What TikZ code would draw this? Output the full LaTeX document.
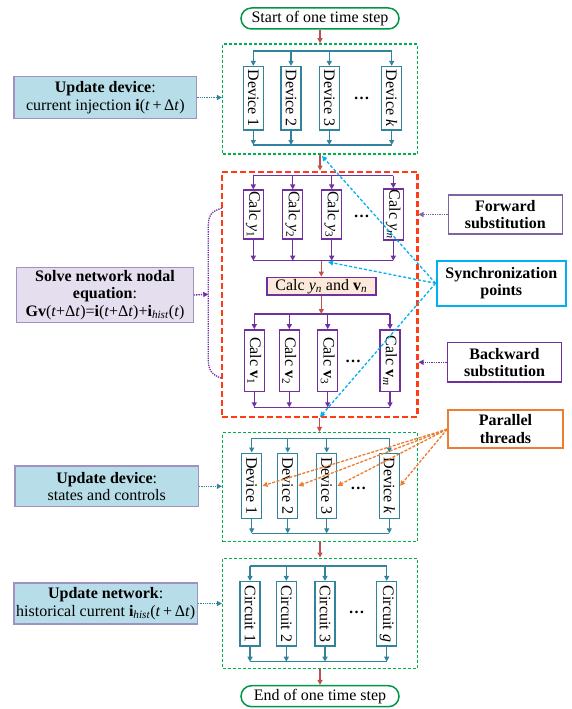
\documentclass[tikz,border=0pt]{standalone}
\usepackage{fontspec}
\setmainfont{Liberation Serif}
\usetikzlibrary{arrows.meta}

\definecolor{devteal}{RGB}{49,132,155}
\definecolor{calcpurple}{RGB}{112,48,160}
\definecolor{flowred}{RGB}{192,80,77}
\definecolor{grpgreen}{RGB}{0,176,80}
\definecolor{termgreen}{RGB}{0,150,70}
\definecolor{solvered}{RGB}{255,60,20}
\definecolor{labblue}{RGB}{183,222,232}
\definecolor{labedge}{RGB}{160,145,195}
\definecolor{solvefill}{RGB}{228,222,239}
\definecolor{yvfill}{RGB}{253,233,217}
\definecolor{fwdpurple}{RGB}{128,100,162}
\definecolor{synccyan}{RGB}{0,176,240}
\definecolor{parorange}{RGB}{237,125,49}

\begin{document}
\begin{tikzpicture}[x=1pt,y=-1pt,
font=\fontsize{16}{17.5}\selectfont,
>={Triangle[length=5pt,width=5pt]},
term/.style={%
draw=termgreen,
line width=1.5pt,
rounded corners=10.5pt,
minimum width=158pt,
minimum height=21pt,
inner sep=0pt
},
grpbox/.style={%
draw=grpgreen,
line width=1.5pt,
dash pattern=on 3pt off 2pt,
minimum width=194.6pt,
inner sep=0pt
},
solvebox/.style={%
draw=solvered,
line width=2.4pt,
dash pattern=on 6pt off 3pt,
minimum width=195.6pt,
minimum height=245pt,
inner sep=0pt
},
devbox/.style={%
draw=devteal,
line width=1.5pt,
fill=white,
rotate=-90,
minimum height=20pt,
inner sep=1pt
},
calcbox/.style={%
draw=calcpurple,
line width=1.5pt,
fill=white,
rotate=-90,
minimum height=20pt,
inner sep=1pt
},
dotsnode/.style={inner sep=0pt,font=\fontsize{16}{17.5}\selectfont\bfseries},
devbus/.style={draw=devteal,line width=1.5pt},
devarr/.style={devteal,line width=1.2pt,->},
calcbus/.style={draw=calcpurple,line width=1.5pt},
calcarr/.style={calcpurple,line width=1.2pt,->},
flowarr/.style={flowred,line width=1.2pt,->},
labbox/.style={%
draw=labedge,
line width=1.2pt,
fill=labblue,
align=center,
inner sep=0pt
},
notebox/.style={%
fill=white,
align=center,
inner sep=0pt,
font=\fontsize{16}{17.5}\selectfont\bfseries
},
noteptr/.style={densely dotted,line width=1.3pt,->},
syncarr/.style={synccyan,dash pattern=on 3pt off 2pt,line width=1.3pt,->},
pararr/.style={parorange,dash pattern=on 3pt off 1.5pt,line width=1.3pt,->},
]
\useasboundingbox (0,0) rectangle (571,709);

%% Start and end
\node[term] (start) at (320,18.5) {Start of one time step};
\node[term] (stop) at (320,696.2) {End of one time step};

%% Group boxes
\node[grpbox,minimum height=110pt] (gA) at (320,99) {};
\node[solvebox] (rB) at (319.5,294.2) {};
\node[grpbox,minimum height=109pt] (gD) at (320,487.2) {};
\node[grpbox,minimum height=110pt] (gE) at (320,613.3) {};

%% Update device: current injection
\foreach \i/\x/\t in {1/253.3/1,2/291/2,3/329.3/3,4/391.7/\textit{k}}{%
\node[devbox,minimum width=63.3pt] (da\i) at (\x,98.3) {Device \t};
\coordinate (ta\i) at (\x,51);
\coordinate (ba\i) at (\x,145);
\draw[devarr] (ta\i)--(da\i.west);
\draw[devarr] (da\i.east)--(ba\i);
}
\draw[devbus] (ta1)--(ta4);
\draw[devbus] (ba1)--(ba4);
\node[dotsnode] (dotsA) at (361.7,98) {…};

%% Forward substitution
\foreach \i/\x/\t in {1/253.3/1,2/292.7/2,3/331.7/3,4/393.3/\textit{m}}{%
\node[calcbox,minimum width=47.6pt] (cy\i) at (\x,214.5) {Calc \textit{y}\textsubscript{\t}};
\coordinate (tb\i) at (\x,175.5);
\coordinate (bb\i) at (\x,260.7);
\draw[calcarr] (tb\i)--(cy\i.west);
\draw[calcarr] (cy\i.east)--(bb\i);
}
\draw[calcbus] (tb1)--(tb4);
\draw[calcbus] (bb1)--(bb4);
\node[dotsnode] (dotsB) at (361.7,216.7) {…};

\node[draw=calcpurple,line width=1.5pt,fill=yvfill,minimum width=109pt,minimum height=17.7pt,inner sep=0pt]
(yv) at (321.3,286.2) {Calc \textit{y}\textsubscript{\textit{n}} and \textbf{v}\textsubscript{\textit{n}}};
\coordinate (bbm) at (321.3,260.7);
\coordinate (tcm) at (321.3,314);

%% Backward substitution
\foreach \i/\x/\t in {1/254.3/1,2/289.3/2,3/327.7/3,4/390/\textit{m}}{%
\node[calcbox,minimum width=61.7pt] (cv\i) at (\x,360.8) {Calc \textbf{v}\textsubscript{\t}};
\coordinate (tc\i) at (\x,314);
\coordinate (bc\i) at (\x,407.3);
\draw[calcarr] (tc\i)--(cv\i.west);
\draw[calcarr] (cv\i.east)--(bc\i);
}
\draw[calcbus] (tc1)--(tc4);
\draw[calcbus] (bc1)--(bc4);
\node[dotsnode] (dotsC) at (353,361.7) {…};

%% Update device: states
\foreach \i/\x/\t in {1/251.7/1,2/287.7/2,3/326.7/3,4/389.3/\textit{k}}{%
\node[devbox,minimum width=65pt] (db\i) at (\x,485.8) {Device \t};
\coordinate (td\i) at (\x,438.3);
\coordinate (bd\i) at (\x,533.3);
\draw[devarr] (td\i)--(db\i.west);
\draw[devarr] (db\i.east)--(bd\i);
}
\draw[devbus] (td1)--(td4);
\draw[devbus] (bd1)--(bd4);
\node[dotsnode] (dotsD) at (358.3,488.3) {…};

%% Update network
\foreach \i/\x/\t in {1/250/1,2/286.3/2,3/325/3,4/386.7/\textit{g}}{%
\node[devbox,minimum width=64.3pt] (ce\i) at (\x,613.8) {Circuit \t};
\coordinate (te\i) at (\x,566);
\coordinate (be\i) at (\x,661.7);
\draw[devarr] (te\i)--(ce\i.west);
\draw[devarr] (ce\i.east)--(be\i);
}
\draw[devbus] (te1)--(te4);
\draw[devbus] (be1)--(be4);
\node[dotsnode] (dotsE) at (356.7,612.7) {…};

%% Main flow
\draw[flowarr] (start.south)--(gA.north);
\draw[flowarr] (gA.south)--(gA.south |- rB.north);
\draw[flowarr] (bbm)--(yv.north);
\draw[flowarr] (yv.south)--(tcm);
\draw[flowarr] (rB.south)--(rB.south |- gD.north);
\draw[flowarr] (gD.south)--(gE.north);
\draw[flowarr] (gE.south)--(stop.north);

%% Left labels
\node[labbox,minimum width=182.7pt,minimum height=41.6pt] (lab1) at (105.3,97.5)
{\textbf{Update device}:\\current injection \textbf{i}(\textit{t}\,+\,Δ\textit{t})};
\node[labbox,fill=solvefill,minimum width=176.6pt,minimum height=55.4pt] (solve) at (105,295)
{\textbf{Solve network nodal}\\\textbf{equation}:\\\textbf{Gv}(\textit{t}+Δ\textit{t})=\textbf{i}(\textit{t}+Δ\textit{t})+\textbf{i}\textsubscript{\textit{hist}}(\textit{t})};
\node[labbox,minimum width=183.3pt,minimum height=40.7pt] (lab3) at (106.7,486.3)
{\textbf{Update device}:\\states and controls};
\node[labbox,minimum width=183.3pt,minimum height=41pt] (lab4) at (105.7,603.5)
{\textbf{Update network}:\\historical current \textbf{i}\textsubscript{\textit{hist}}(\textit{t}\,+\,Δ\textit{t})};

\draw[noteptr,devteal] (lab1.east)--(lab1.east -| gA.west);
\draw[noteptr,devteal] (lab3.east)--(lab3.east -| gD.west);
\draw[noteptr,devteal] (lab4.east)--(lab4.east -| gE.west);

%% Brace round the solver
\coordinate (braceT) at (221.7,208.3);
\coordinate (braceB) at (221.7,378.3);
\coordinate (braceM) at (208.3,294.3);
\draw[calcpurple,densely dotted,line width=1.3pt] (braceT)
.. controls (211,211) and (208.3,216) .. (208.3,226) -- (208.3,360)
.. controls (208.3,370) and (212,375) .. (braceB);
\draw[noteptr,calcpurple] (solve.east)--(braceM);

%% Right notes
\node[notebox,draw=fwdpurple,line width=1.5pt,minimum width=114pt,minimum height=39pt] (fwd) at (505.3,214.5)
{Forward\\substitution};
\node[notebox,draw=synccyan,line width=2.2pt,minimum width=129.3pt,minimum height=45.3pt] (sync) at (501.3,283.3)
{Synchronization\\points};
\node[notebox,draw=calcpurple,line width=1.5pt,minimum width=114.4pt,minimum height=39.3pt] (bwd) at (504.5,362.3)
{Backward\\substitution};
\node[notebox,draw=parorange,line width=2.2pt,minimum width=114.4pt,minimum height=38.3pt] (par) at (505.5,429.2)
{Parallel\\threads};

\draw[noteptr,fwdpurple] (fwd.west)--(fwd.west -| rB.east);
\draw[noteptr,calcpurple] (bwd.west)--(bwd.west -| rB.east);

%% Parallel threads
\foreach \i in {1,...,4}{%
\draw[pararr] (par.west)--(db\i.north);
}

%% Synchronization points
\coordinate (syncA) at (322,156);
\coordinate (syncB) at (328,262);
\coordinate (syncC) at (320,417);
\draw[syncarr] (sync.west)--(syncA);
\draw[syncarr] (sync.west)--(syncB);
\draw[syncarr] (sync.west)--(syncC);
\end{tikzpicture}
\end{document}
